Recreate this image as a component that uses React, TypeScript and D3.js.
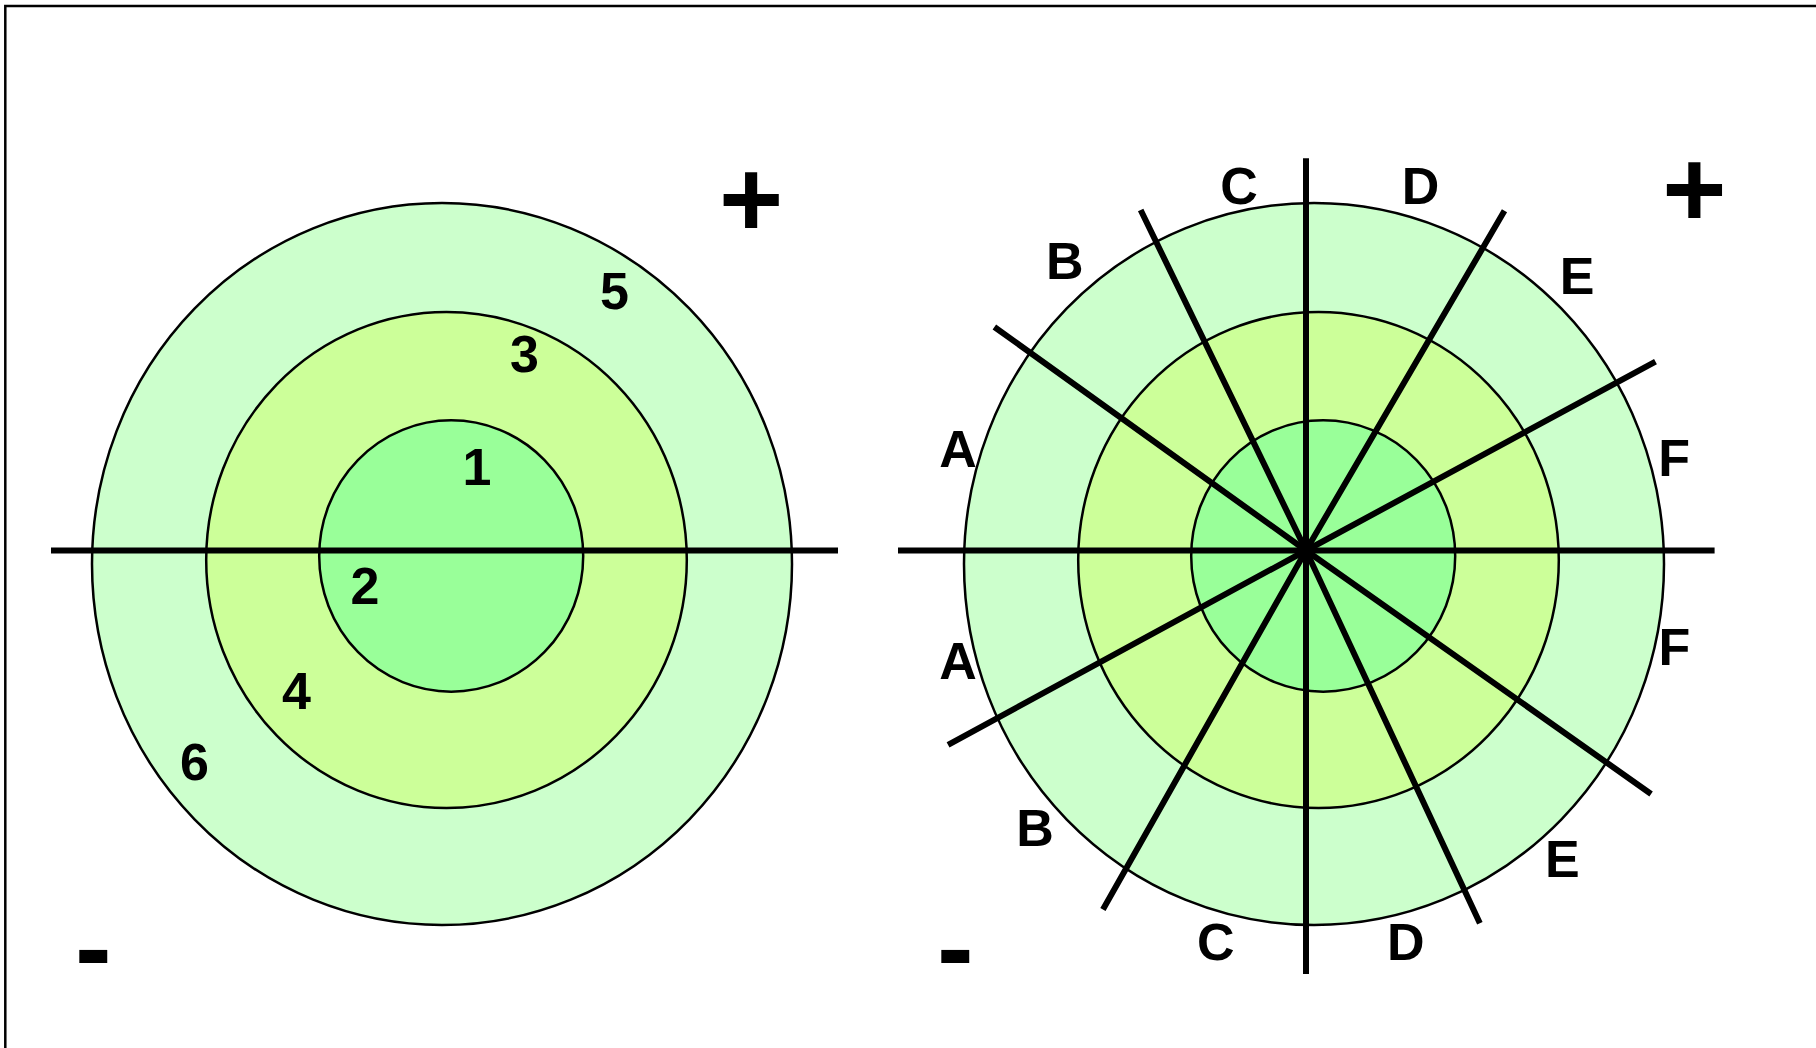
import React, { useEffect, useRef } from 'react';
import * as d3 from 'd3';

const W = 1816;
const H = 1048;

// rings, outer -> inner
const ringFills = ['#ccffcc', '#ccff99', '#99ff99'];
const ringRx = [350, 240.3, 132];
const ringRy = [361, 248, 135.7];
const ringDx = [8, 12.5, 17.2];
const ringDy = [13.5, 9.5, 5.5];

// left panel: zone numbers (clock angle in degrees, distance from centre)
const zoneNumbers = ['5', '3', '1', '2', '4', '6'];
const zoneAngle = [34.8, 24.6, 27.2, 243.3, 224.4, 228.7];
const zoneRadius = [316.3, 217.2, 94, 77.2, 196.5, 318.8];

// right panel: sector letters
const sectorLetters = ['C', 'D', 'E', 'F', 'F', 'E', 'D', 'C', 'B', 'A', 'A', 'B'];
const sectorAngle = [349.6, 17.4, 44.6, 75.8, 104.6, 140.2, 165.7, 193.0, 224.4, 252.4, 286.4, 320.2];
const sectorRadius = [371.6, 383.1, 386.2, 379.8, 380.6, 400.6, 403.6, 400.8, 387.4, 365.1, 362.8, 377];

// spokes through the centre: both ends as (clock angle, length)
const spokeAngleA = [0, 90, 334.1, 30.3, 305.65, 61.6];
const spokeLenA = [392.2, 408.6, 378.5, 393.4, 383.5, 397.3];
const spokeAngleB = [180, 270, 155, 209.5, 125.2, 241.5];
const spokeLenB = [423.5, 408, 411.4, 412.4, 422.3, 407.3];

const signs = ['+', '-'];

export default function App() {
    const ref = useRef<SVGSVGElement | null>(null);

    useEffect(() => {
        if (!ref.current) return;
        const svg = d3.select(ref.current);
        svg.selectAll('*').remove();

        const font = '"Liberation Sans", Arial, sans-serif';
        const rad = (deg: number) => (deg * Math.PI) / 180;
        const line = d3.line();

        const panels = [
            { cx: 434, cy: 550.5, axis: [-383, 404], plus: [751.2, 197.5], minus: [93.3, 955.2] },
            { cx: 1306, cy: 550.5, axis: [-408, 408.6], plus: [1694.3, 187.8], minus: [955.2, 955.3] },
        ];

        // frame (only top and left edges show)
        svg.append('path')
            .attr('d', `M5.3,${H} V6 H${W}`)
            .attr('fill', 'none')
            .attr('stroke', '#000')
            .attr('stroke-width', 2.5);

        panels.forEach((p, pi) => {
            const g = svg.append('g');

            g.selectAll('ellipse')
                .data(ringFills)
                .enter()
                .append('ellipse')
                .attr('cx', (_, i) => p.cx + ringDx[i])
                .attr('cy', (_, i) => p.cy + ringDy[i])
                .attr('rx', (_, i) => ringRx[i])
                .attr('ry', (_, i) => ringRy[i])
                .attr('fill', d => d)
                .attr('stroke', '#000')
                .attr('stroke-width', 2.5);

            if (pi === 0) {
                g.append('path')
                    .attr('d', line([[p.cx + p.axis[0], p.cy], [p.cx + p.axis[1], p.cy]]))
                    .attr('stroke', '#000')
                    .attr('stroke-width', 6);

                g.selectAll('text.zone')
                    .data(zoneNumbers)
                    .enter()
                    .append('text')
                    .attr('class', 'zone')
                    .each(function (d, i) {
                        const [x, y] = d3.pointRadial(rad(zoneAngle[i]), zoneRadius[i]);
                        d3.select(this).attr('x', p.cx + x).attr('y', p.cy + y + 18.6);
                    })
                    .attr('text-anchor', 'middle')
                    .attr('font-family', font)
                    .attr('font-weight', 'bold')
                    .attr('font-size', 52)
                    .text(d => d);
            } else {
                g.selectAll('path.spoke')
                    .data(spokeAngleA)
                    .enter()
                    .append('path')
                    .attr('class', 'spoke')
                    .attr('d', (a, i) => {
                        const [x1, y1] = d3.pointRadial(rad(a), spokeLenA[i]);
                        const [x2, y2] = d3.pointRadial(rad(spokeAngleB[i]), spokeLenB[i]);
                        return line([[p.cx + x1, p.cy + y1], [p.cx, p.cy], [p.cx + x2, p.cy + y2]]);
                    })
                    .attr('fill', 'none')
                    .attr('stroke', '#000')
                    .attr('stroke-width', 6);

                g.selectAll('text.sector')
                    .data(sectorLetters)
                    .enter()
                    .append('text')
                    .attr('class', 'sector')
                    .each(function (d, i) {
                        const [x, y] = d3.pointRadial(rad(sectorAngle[i]), sectorRadius[i]);
                        d3.select(this).attr('x', p.cx + x).attr('y', p.cy + y + 18.6);
                    })
                    .attr('text-anchor', 'middle')
                    .attr('font-family', font)
                    .attr('font-weight', 'bold')
                    .attr('font-size', 52)
                    .text(d => d);
            }

            // + and - markers
            g.selectAll('text.sign')
                .data(signs)
                .enter()
                .append('text')
                .attr('class', 'sign')
                .attr('x', d => (d === '+' ? p.plus[0] : p.minus[0]))
                .attr('y', d => (d === '+' ? p.plus[1] + 39 : p.minus[1] + 30))
                .attr('text-anchor', 'middle')
                .attr('font-family', font)
                .attr('font-weight', 'bold')
                .attr('font-size', 110)
                .text(d => d);
        });
    }, []);

    return (
        <svg
            ref={ref}
            width={W}
            height={H}
            style={{ position: 'absolute', left: 0, top: 0, background: '#fff', display: 'block' }}
        />
    );
}
